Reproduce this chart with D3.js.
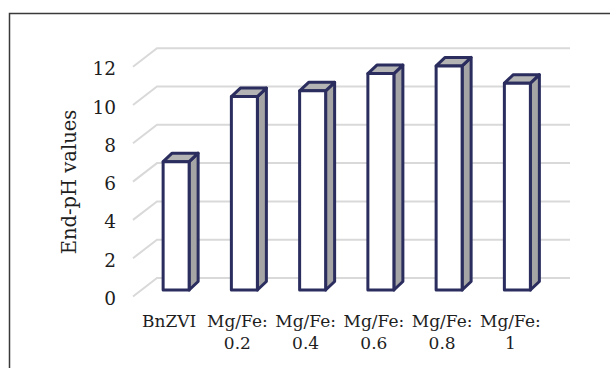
<!DOCTYPE html>
<html>
<head>
<meta charset="utf-8">
<script src="https://cdn.jsdelivr.net/npm/d3@7"></script>
<style>
  html, body { margin: 0; padding: 0; background: #fff; }
  svg { display: block; }
  text { font-family: "DejaVu Serif", serif; fill: #1e1e1e; }
</style>
</head>
<body>
<svg id="chart" width="610" height="368"></svg>
<script>
// End-pH of each material
const categories = ["BnZVI", "Mg/Fe: 0.2", "Mg/Fe: 0.4", "Mg/Fe: 0.6", "Mg/Fe: 0.8", "Mg/Fe: 1"];
const endPH = [6.7, 10.1, 10.4, 11.3, 11.7, 10.8];
const yTicks = [0, 2, 4, 6, 8, 10, 12];
const yTitle = "End-pH values";

const svg = d3.select("#chart");

// outer frame (runs past the right and bottom edges)
svg.append("rect")
  .attr("x", 9.5).attr("y", 13.5)
  .attr("width", 700).attr("height", 400)
  .attr("fill", "none").attr("stroke", "#3a3a3a").attr("stroke-width", 1.5);

// bar plane: front faces of the columns
const y = d3.scaleLinear().domain([0, 12]).range([290, 60.2]);
const x = d3.scaleBand().domain(categories).range([142, 551.5]).paddingInner(0).paddingOuter(0);

// depth of the back wall relative to the bar plane, and of the floor edge
const wallShift = { dx: 0, dy: -12 };
const floorDepth = { dx: -24, dy: 18.5 };
const wallLeft = 157, wallRight = 570;

// gridlines on the back wall with the diagonal on the side wall
const grid = svg.append("g");
yTicks.forEach(t => {
  const yb = y(t) + wallShift.dy;
  grid.append("path")
    .attr("d", `M${wallLeft + floorDepth.dx},${yb + floorDepth.dy}L${wallLeft},${yb}L${wallRight},${yb}`)
    .attr("fill", "none").attr("stroke", "#d9d9d9").attr("stroke-width", 2);
});

// tick labels at the front edge
svg.append("g").selectAll("text").data(yTicks).join("text")
  .attr("x", 116)
  .attr("y", d => y(d) + wallShift.dy + floorDepth.dy + 8.5)
  .attr("text-anchor", "end")
  .attr("font-size", 18.5)
  .text(d => d);

// axis title
svg.append("text")
  .attr("transform", "translate(76,182) rotate(-90)")
  .attr("text-anchor", "middle")
  .attr("font-size", 19.5)
  .text(yTitle);

// 3-D columns
const barW = 26, depth = { dx: 9, dy: 8.5 };
const navy = "#2a2d5e";
const bars = svg.append("g")
  .attr("stroke", navy).attr("stroke-width", 3).attr("stroke-linejoin", "round");

categories.forEach((c, i) => {
  const cx = x(c) + x.bandwidth() / 2;
  const x0 = cx - barW / 2, x1 = cx + barW / 2;
  const yt = y(endPH[i]), yb = y(0);
  const g = bars.append("g");
  // side face
  g.append("path")
    .attr("d", `M${x1},${yt}L${x1 + depth.dx},${yt - depth.dy}L${x1 + depth.dx},${yb - depth.dy}L${x1},${yb}Z`)
    .attr("fill", "#a5a5a5");
  // top face
  g.append("path")
    .attr("d", `M${x0},${yt}L${x0 + depth.dx},${yt - depth.dy}L${x1 + depth.dx},${yt - depth.dy}L${x1},${yt}Z`)
    .attr("fill", "#b4b4b4");
  // front face
  g.append("rect")
    .attr("x", x0).attr("y", yt).attr("width", barW).attr("height", yb - yt)
    .attr("fill", "#ffffff");
});

// category labels, wrapped after the colon
const lab = svg.append("g").selectAll("text").data(categories).join("text")
  .attr("text-anchor", "middle")
  .attr("font-size", 17)
  .attr("transform", d => `translate(${x(d) + x.bandwidth() / 2 - 7},327)`);
lab.each(function (d) {
  const parts = d.split(": ");
  const t = d3.select(this);
  parts.forEach((p, k) => {
    t.append("tspan").attr("x", 0).attr("dy", k === 0 ? 0 : 21.7)
      .text(k < parts.length - 1 ? p + ":" : p);
  });
});
</script>
</body>
</html>
